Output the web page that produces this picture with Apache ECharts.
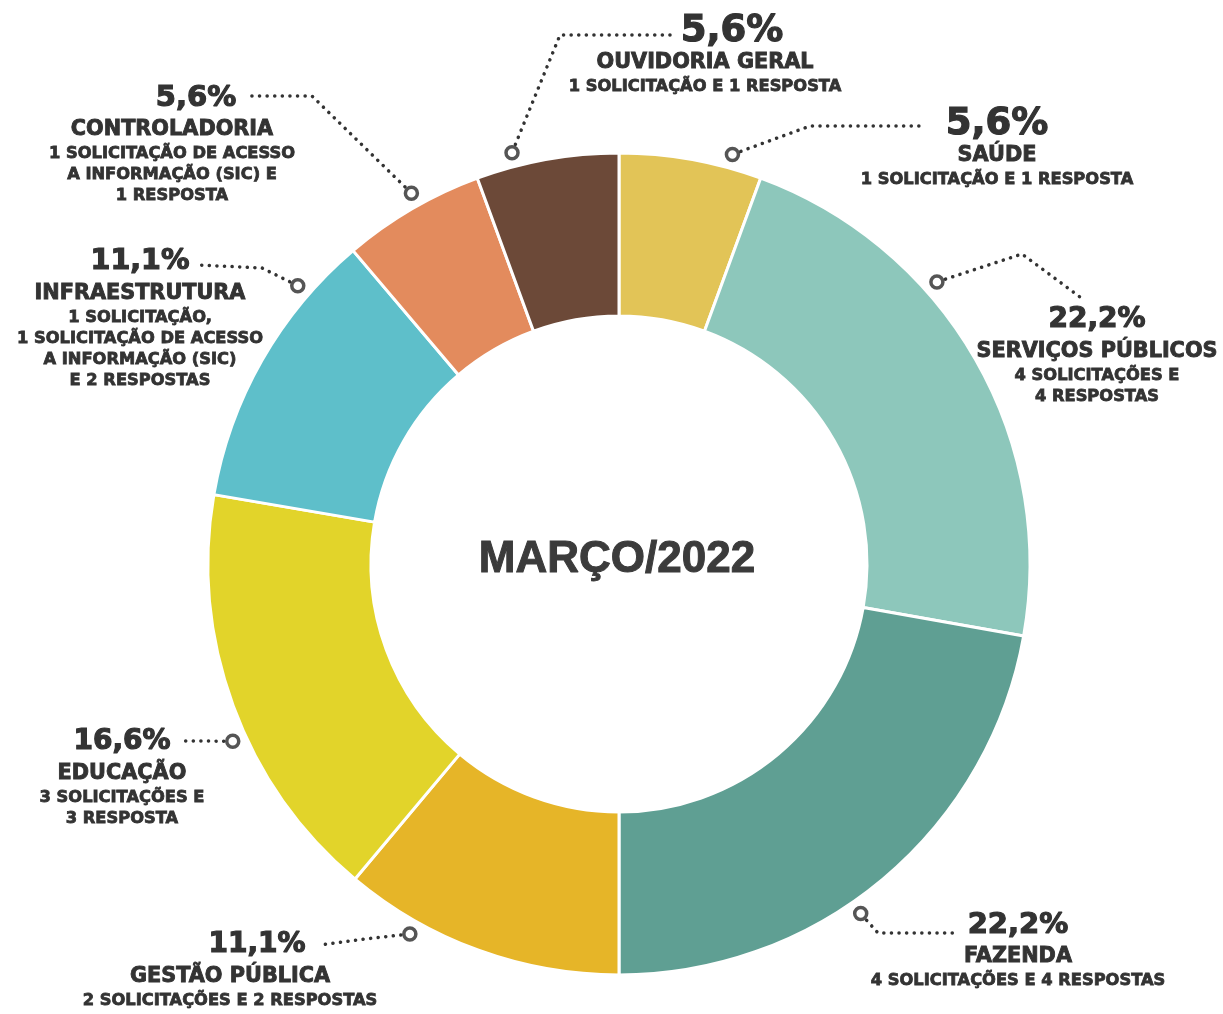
<!DOCTYPE html>
<html>
<head>
<meta charset="utf-8">
<script src="https://cdn.jsdelivr.net/npm/echarts@6/dist/echarts.min.js"></script>
<style>
  html, body { margin: 0; padding: 0; background: #fff; }
  #chart { width: 1223px; height: 1014px; }
</style>
</head>
<body>
<div id="chart"></div>
<script>
// data, clockwise from 12 o'clock
const names = ['SAÚDE', 'SERVIÇOS PÚBLICOS', 'FAZENDA', 'GESTÃO PÚBLICA', 'EDUCAÇÃO', 'INFRAESTRUTURA', 'CONTROLADORIA', 'OUVIDORIA GERAL'];
const percents = [5.6, 22.2, 22.2, 11.1, 16.6, 11.1, 5.6, 5.6];
const details = [
  '1 SOLICITAÇÃO E 1 RESPOSTA',
  '4 SOLICITAÇÕES E\n4 RESPOSTAS',
  '4 SOLICITAÇÕES E 4 RESPOSTAS',
  '2 SOLICITAÇÕES E 2 RESPOSTAS',
  '3 SOLICITAÇÕES E\n3 RESPOSTA',
  '1 SOLICITAÇÃO,\n1 SOLICITAÇÃO DE ACESSO\nA INFORMAÇÃO (SIC)\nE 2 RESPOSTAS',
  '1 SOLICITAÇÃO DE ACESSO\nA INFORMAÇÃO (SIC) E\n1 RESPOSTA',
  '1 SOLICITAÇÃO E 1 RESPOSTA'
];
const colors = ['#E2C457', '#8DC7BB', '#5F9F93', '#E6B528', '#E2D42A', '#5EBFCA', '#E38B5D', '#6C4938'];
const title = 'MARÇO/2022';

// layout only: label anchor (center x, top y), leader elbow/end,
// percent font size and left pad, marker angle shift (deg) from slice middle
const labelPos = [
  { x: 997, y: 105, elbow: [810, 126], end: [922, 126], size: 37, pad: 0, shift: 5.4 },
  { x: 1097, y: 301, elbow: [1022, 254], end: [1080, 297], size: 28, pad: 0, shift: -11.7 },
  { x: 1018, y: 906, elbow: [878, 933], end: [953, 933], size: 29, pad: 0, shift: 5.3 },
  { x: 230, y: 926, elbow: [365, 939], end: [320, 945], size: 28, pad: 54, shift: 9.5 },
  { x: 122, y: 723, elbow: [205, 741], end: [185, 741], size: 28, pad: 0, shift: -4.5 },
  { x: 140, y: 243, elbow: [262, 268], end: [198, 265], size: 28.5, pad: 0, shift: 11.2 },
  { x: 172, y: 79, elbow: [312, 96], end: [246, 96], size: 29, pad: 48, shift: 1 },
  { x: 705, y: 12, elbow: [560, 35], end: [672, 35], size: 37, pad: 54, shift: -4.5 }
];

const center = [619, 564];
const innerR = 248;
const outerR = 411;
const markerR = 425;
const ink = '#333';

const fmtPct = v => v.toFixed(1).replace('.', ',') + '%';

// marker positions on the 0..100 angle scale (slice middle + small shift)
const markerAngles = [];
let acc = 0;
percents.forEach((v, i) => { markerAngles.push(acc + v / 2 + labelPos[i].shift / 3.6); acc += v; });

function markerPixel(i) {
  const a = markerAngles[i] * 3.6 * Math.PI / 180;
  return [center[0] + markerR * Math.sin(a), center[1] - markerR * Math.cos(a)];
}

const textBase = { fontWeight: 'bold', fontFamily: 'DejaVu Sans', color: ink, textBorderColor: ink };
const rich = {
  n: Object.assign({ fontSize: 20.8, lineHeight: 26, textBorderWidth: 0.9 }, textBase),
  d: Object.assign({ fontSize: 16.3, lineHeight: 21, textBorderWidth: 0.8 }, textBase)
};
labelPos.forEach((l, i) => {
  rich['p' + i] = Object.assign({ fontSize: l.size, lineHeight: 38, textBorderWidth: 1.2, padding: [0, 0, 0, l.pad] }, textBase);
});

const chart = echarts.init(document.getElementById('chart'));

chart.setOption({
  backgroundColor: '#fff',
  animation: false,
  polar: { center: center, radius: markerR },
  radiusAxis: { type: 'value', min: 0, max: 1, show: false },
  angleAxis: { type: 'value', min: 0, max: 100, startAngle: 90, clockwise: true, show: false },
  graphic: [{
    type: 'text',
    x: center[0] - 2,
    y: center[1] - 4,
    style: {
      text: title,
      fill: '#3b3b3b',
      stroke: '#3b3b3b',
      lineWidth: 1,
      font: 'bold 44px "Liberation Sans", Arial, sans-serif',
      textAlign: 'center',
      textVerticalAlign: 'middle'
    }
  }],
  series: [
    {
      type: 'pie',
      center: center,
      radius: [innerR, outerR],
      startAngle: 90,
      clockwise: true,
      avoidLabelOverlap: false,
      data: percents.map((v, i) => ({ name: names[i], value: v, itemStyle: { color: colors[i] } })),
      itemStyle: { borderColor: '#fff', borderWidth: 3 },
      emphasis: { disabled: true },
      label: {
        show: true,
        position: 'outside',
        overflow: 'none',
        color: ink,
        fontFamily: 'DejaVu Sans',
        fontWeight: 'bold',
        align: 'center',
        formatter: p => {
          const i = p.dataIndex;
          const d = details[i].split('\n').map(l => '{d|' + l + '}').join('\n');
          return '{p' + i + '|' + fmtPct(p.value) + '}\n{n|' + p.name + '}\n' + d;
        },
        rich: rich
      },
      labelLine: {
        show: true,
        length: 15,
        length2: 10,
        lineStyle: { color: ink, width: 3.5, type: [0.1, 7.5], cap: 'round' }
      },
      labelLayout: params => {
        const i = params.dataIndex;
        const lay = labelPos[i];
        const m = markerPixel(i);
        const dx = lay.elbow[0] - m[0];
        const dy = lay.elbow[1] - m[1];
        const len = Math.sqrt(dx * dx + dy * dy) || 1;
        const start = [m[0] + dx / len * 9, m[1] + dy / len * 9];
        return {
          x: lay.x,
          y: lay.y,
          align: 'center',
          verticalAlign: 'top',
          labelLinePoints: [start, lay.elbow, lay.end]
        };
      }
    },
    {
      type: 'scatter',
      coordinateSystem: 'polar',
      data: markerAngles.map(a => [1, a]),
      symbol: 'circle',
      symbolSize: 12,
      itemStyle: { color: '#fff', borderColor: '#2a2a2a', borderWidth: 3.5 },
      emphasis: { disabled: true },
      silent: true,
      z: 5
    }
  ]
});
</script>
</body>
</html>
